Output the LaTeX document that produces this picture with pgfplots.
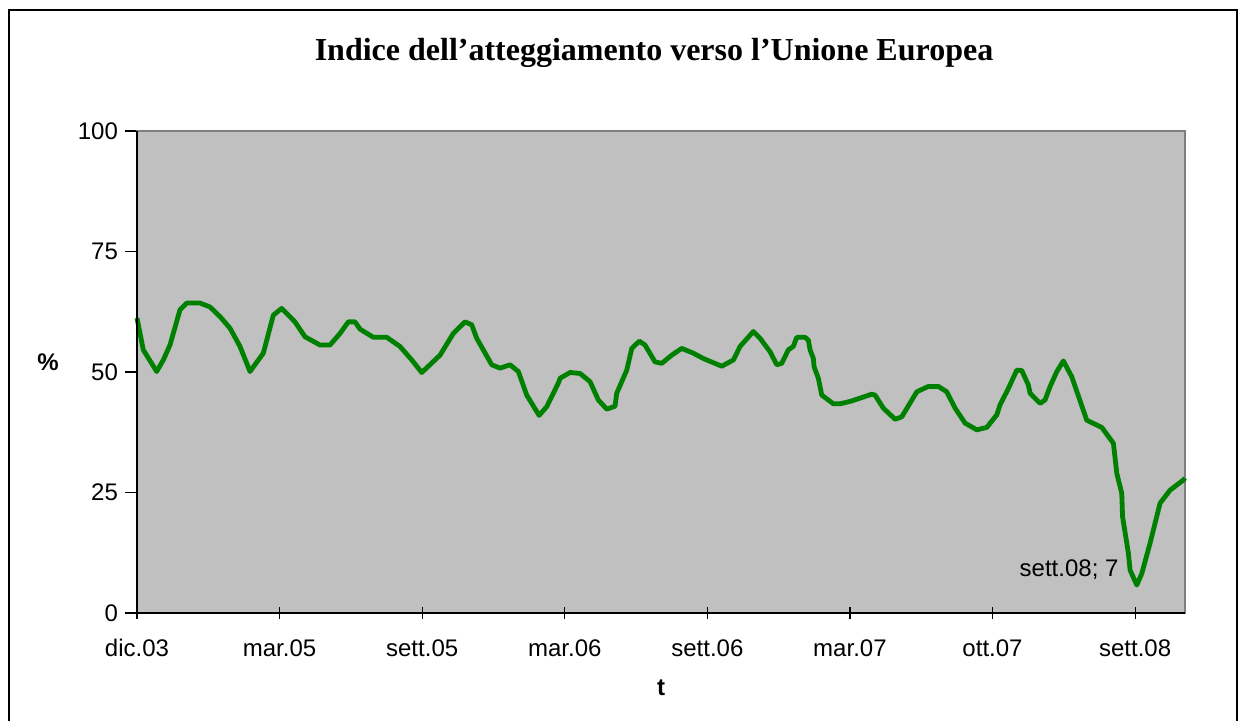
\documentclass[border=0pt]{standalone}
\usepackage{fontspec}
\setmainfont{Liberation Sans}
\newfontfamily\titlefont{Liberation Serif}
\usepackage{pgfplots}
\pgfplotsset{compat=1.18}
\definecolor{plotbg}{RGB}{192,192,192}
\definecolor{linegreen}{RGB}{0,128,0}
\definecolor{framegray}{RGB}{128,128,128}
\begin{document}
\begin{tikzpicture}
\begin{axis}[
    scale only axis,
    width=524pt, height=241pt,
    xmin=0, xmax=147, ymin=0, ymax=100,
    xtick={0,20,...,140},
    xticklabels={dic.03,mar.05,sett.05,mar.06,sett.06,mar.07,ott.07,sett.08},
    ytick={0,25,50,75,100},
    xtick pos=bottom, ytick pos=left,
    axis background/.style={fill=plotbg},
    axis line style={draw=framegray, line width=1pt},
    x tick style={black, line width=0.6pt},
    y tick style={black, line width=0.6pt},
    xtick align=center, ytick align=outside,
    major tick length=6pt,
    tick label style={font=\fontsize{12}{14}\selectfont},
    /pgf/number format/assume math mode=true,
    xticklabel style={text height=9pt, text depth=0pt, yshift=-6pt},
    xlabel={t}, ylabel={\%},
    label style={font=\fontsize{12}{14}\selectfont\bfseries},
    xlabel style={at={(rel axis cs:0.5,0)}, anchor=center, yshift=-37.5pt},
    ylabel style={at={(rel axis cs:0,0.52)}, anchor=center, rotate=-90, xshift=-44.5pt},
    clip=false,
]
\addplot[linegreen, line width=2.4pt, line join=round] coordinates {
(0,61.2) (0.88,54.6) (2.76,50.1) (3.69,52.5) (4.63,55.6) (6.03,62.9) (6.97,64.3)
(8.84,64.3) (10.24,63.5) (11.64,61.5) (13.04,59.1) (14.45,55.3) (15.85,50.1)
(17.72,53.9) (19.12,61.8) (20.30,63.2) (22.16,60.4) (23.57,57.3) (25.67,55.6)
(27.07,55.6) (28.48,58.0) (29.64,60.4) (30.58,60.4) (31.28,58.9) (33.15,57.2)
(35.03,57.2) (36.89,55.3) (38.54,52.5) (39.94,49.9) (42.51,53.5) (44.37,58.0)
(46.01,60.4) (46.95,59.8) (47.65,57.0) (49.76,51.5) (50.92,50.8) (52.32,51.5)
(53.49,50.1) (54.67,45.2) (56.40,41.0) (57.47,42.8) (59.10,47.7) (59.34,48.7)
(60.74,49.9) (62.14,49.7) (63.55,48.0) (64.71,44.2) (65.89,42.3) (67.05,42.9)
(67.29,45.6) (68.70,50.4) (69.40,54.9) (70.46,56.4) (71.26,55.6) (72.66,52.1)
(73.60,51.8) (75.01,53.5) (76.41,54.9) (78.04,53.9) (79.44,52.8) (82.02,51.2)
(83.65,52.5) (84.59,55.3) (86.45,58.4) (87.39,57.0) (88.80,54.2) (89.74,51.5)
(90.44,51.8) (91.36,54.6) (92.06,55.3) (92.54,57.2) (93.71,57.2) (94.17,56.6)
(94.41,54.6) (94.87,52.8) (94.97,51.1) (95.57,48.7) (96.05,45.2) (97.68,43.4)
(98.62,43.4) (100.26,44.0) (103.06,45.4) (103.53,45.2) (104.69,42.5) (106.33,40.2)
(107.27,40.7) (109.38,45.9) (111.00,47.0) (112.41,47.0) (113.58,45.9) (114.75,42.5)
(116.15,39.4) (117.79,38.0) (119.19,38.5) (120.60,41.1) (121.06,43.2) (122.23,46.6)
(123.41,50.4) (124.11,50.3) (125.03,47.3) (125.27,45.6) (126.67,43.5) (127.37,44.2)
(128.08,47.0) (129.02,50.1) (129.94,52.3) (131.12,49.0) (133.22,40.0) (135.33,38.5)
(136.96,35.2) (137.43,29.0) (138.13,24.8) (138.24,20.0) (139.06,12.4) (139.30,8.9)
(140.24,5.8) (140.94,8.2) (142.10,14.5) (143.51,22.8) (144.91,25.5) (146.78,27.6)
(147,28.0)
};
\draw[black, line width=1pt] (rel axis cs:0,1) -- (rel axis cs:0,0) -- (rel axis cs:1,0);
\node[anchor=east, font=\fontsize{12}{14}\selectfont, inner sep=1pt] at (axis cs:138,8.9) {sett.08; 7};
\end{axis}
\node[font=\titlefont\fontsize{16}{18}\selectfont\bfseries] at (258.5pt,280pt) {Indice dell’atteggiamento verso l’Unione Europea};
\draw[black, line width=1pt] (-64pt,-60pt) -- (-64pt,301.5pt) -- (550pt,301.5pt) -- (550pt,-60pt);
\pgfresetboundingbox
\path[use as bounding box] (-68.5pt,-53.5pt) rectangle (552.5pt,306.5pt);
\end{tikzpicture}
\end{document}
